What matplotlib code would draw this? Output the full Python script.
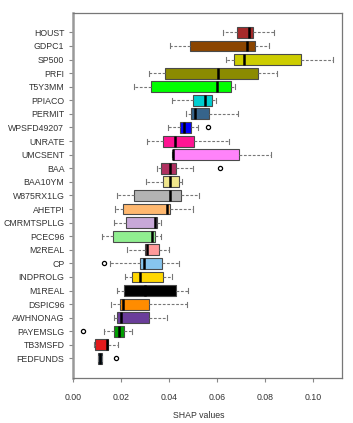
import numpy as np
import matplotlib.pyplot as plt

plt.rcParams['font.family'] = ['Liberation Sans', 'DejaVu Sans']

# features, top to bottom
features = ["HOUST", "GDPC1", "SP500", "PRFI", "T5Y3MM", "PPIACO", "PERMIT",
            "WPSFD49207", "UNRATE", "UMCSENT", "BAA", "BAA10YM", "W875RX1LG",
            "AHETPI", "CMRMTSPLLG", "PCEC96", "M2REAL", "CP", "INDPROLG",
            "M1REAL", "DSPIC96", "AWHNONAG", "PAYEMSLG", "TB3MSFD", "FEDFUNDS"]

whisker_lo = [0.0622, 0.0403, 0.0635, 0.0313, 0.0253, 0.0410, 0.0468,
              0.0396, 0.0306, 0.0410, 0.0348, 0.0303, 0.0181,
              0.0174, 0.0171, 0.0118, 0.0222, 0.0153, 0.0213,
              0.0181, 0.0157, 0.0167, 0.0128, 0.0085, 0.0102]
q1 = [0.0681, 0.0486, 0.0670, 0.0382, 0.0325, 0.0497, 0.0488,
      0.0446, 0.0375, 0.0413, 0.0363, 0.0375, 0.0253,
      0.0208, 0.0217, 0.0163, 0.0297, 0.0279, 0.0242,
      0.0211, 0.0195, 0.0183, 0.0170, 0.0088, 0.0104]
median = [0.0731, 0.0723, 0.0710, 0.0604, 0.0598, 0.0549, 0.0506,
          0.0461, 0.0424, 0.0417, 0.0403, 0.0404, 0.0403,
          0.0392, 0.0340, 0.0327, 0.0308, 0.0293, 0.0278,
          0.0300, 0.0206, 0.0198, 0.0189, 0.0139, 0.0111]
q3 = [0.0750, 0.0757, 0.0948, 0.0770, 0.0656, 0.0578, 0.0567,
      0.0490, 0.0503, 0.0688, 0.0427, 0.0439, 0.0449,
      0.0403, 0.0348, 0.0338, 0.0358, 0.0371, 0.0373,
      0.0427, 0.0313, 0.0314, 0.0211, 0.0143, 0.0118]
whisker_hi = [0.0836, 0.0815, 0.1080, 0.0850, 0.0674, 0.0593, 0.0685,
              0.0521, 0.0650, 0.0824, 0.0500, 0.0454, 0.0524,
              0.0500, 0.0364, 0.0364, 0.0399, 0.0440, 0.0411,
              0.0479, 0.0473, 0.0392, 0.0246, 0.0185, 0.0120]
outliers = [[], [], [], [], [], [], [],
            [0.0561], [], [], [0.0611], [], [],
            [], [], [], [], [0.0129], [],
            [], [], [], [0.0039], [], [0.0177]]

colors = ["#A52A2A", "#8B4500", "#CDCD00", "#8B8B00", "#00FF00", "#00CED1", "#36648B",
          "#0000FF", "#FF1493", "#FF83FA", "#B03060", "#F0E68C", "#B3B3B3",
          "#FFB86F", "#C8A8D8", "#90EE90", "#FF9A9A", "#87C5EE", "#FFD700",
          "#000000", "#FF8C00", "#6A3D9A", "#00A000", "#E31A1C", "#1F4E79"]

n = len(features)
positions = np.arange(n, 0, -1)

stats = []
for i in range(n):
    stats.append(dict(whislo=whisker_lo[i], q1=q1[i], med=median[i], q3=q3[i],
                      whishi=whisker_hi[i], fliers=outliers[i]))

fig = plt.figure(figsize=(3.53, 4.23), dpi=100)
ax = fig.add_axes([0.206, 0.106, 0.762, 0.864])

bp = ax.bxp(stats, positions=positions, vert=False, widths=0.8,
            patch_artist=True, showfliers=True,
            boxprops=dict(edgecolor="#4a4a4a", linewidth=0.8),
            medianprops=dict(color="black", linewidth=1.8),
            whiskerprops=dict(color="#777777", linestyle=(0, (2.5, 1.5)), linewidth=0.8),
            capprops=dict(color="#777777", linewidth=0.8),
            capwidths=0.37,
            flierprops=dict(marker="o", markersize=3, markerfacecolor="none",
                            markeredgecolor="black", markeredgewidth=0.9))
for patch, c in zip(bp["boxes"], colors):
    patch.set_facecolor(c)

ax.set_xlim(-0.0003, 0.1118)
ax.set_ylim(-0.45, n + 1.45)
ax.set_yticks(positions)
ax.set_yticklabels(features)
ax.set_xticks([0.00, 0.02, 0.04, 0.06, 0.08, 0.10])
ax.set_xticklabels(["0.00", "0.02", "0.04", "0.06", "0.08", "0.10"])
ax.tick_params(axis="both", labelsize=6.3, colors="#888888", labelcolor="#333333",
               length=3, width=0.8)
ax.tick_params(axis="x", pad=8)
ax.tick_params(axis="y", pad=3)

for side in ["top", "right", "bottom"]:
    ax.spines[side].set_color("#777777")
    ax.spines[side].set_linewidth(0.9)
ax.spines["left"].set_color("#999999")
ax.spines["left"].set_linewidth(1.8)

fig.text(199 / 353, 1 - 415 / 423, "SHAP values", ha="center", va="center",
         fontsize=6.3, color="#333333")

fig.savefig("out.png", dpi=100)
